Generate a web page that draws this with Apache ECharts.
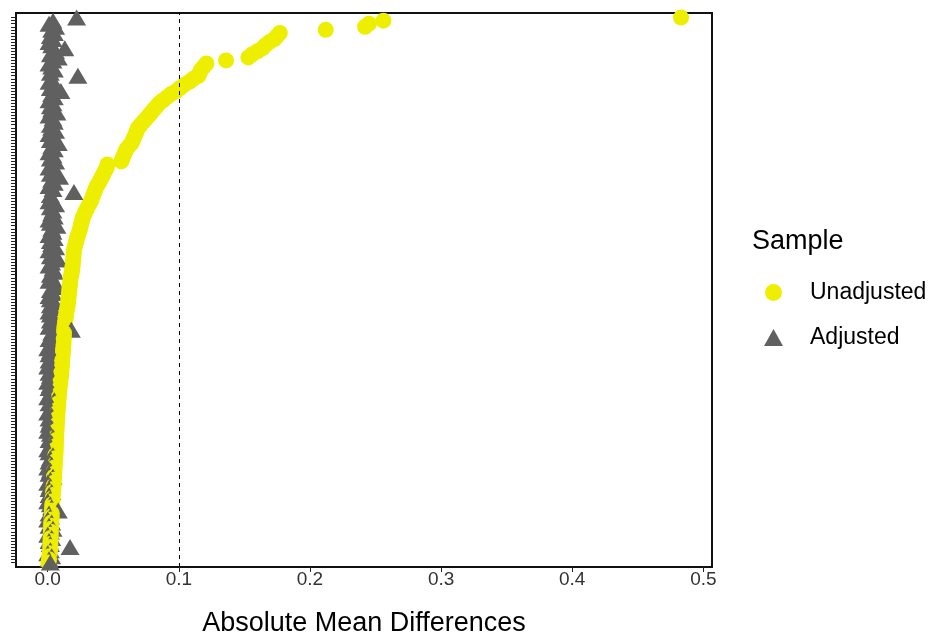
<!DOCTYPE html>
<html><head><meta charset="utf-8">
<script src="https://cdn.jsdelivr.net/npm/echarts@6/dist/echarts.min.js"></script>
<style>html,body{margin:0;padding:0;background:#fff}#c{width:933px;height:635px}</style>
</head><body><div id="c"></div>
<script>
// Unadjusted absolute mean differences, sorted ascending (row 0 = bottom of the plot)
const unadjusted = [
  0.0005, 0.001, 0.0012, 0.0015, 0.0018,
  0.002, 0.002, 0.0021, 0.0022, 0.0023, 0.0024, 0.0025, 0.0026, 0.0027, 0.0028,
  0.003, 0.0031, 0.0032, 0.0033, 0.0035, 0.0036, 0.0037, 0.0039, 0.004, 0.0042,
  0.0045, 0.0046, 0.0047, 0.0048, 0.005, 0.0051, 0.0052, 0.0054, 0.0055, 0.0057, 0.0058,
  0.006, 0.0061, 0.0062, 0.0063, 0.0064, 0.0065, 0.0066, 0.0067, 0.0068, 0.0069, 0.007,
  0.0071, 0.0073, 0.0075, 0.0077, 0.0079, 0.008, 0.0082, 0.0084,
  0.0086, 0.0088, 0.009, 0.0093, 0.0096, 0.0099,
  0.0101, 0.0103, 0.0105, 0.0107, 0.0109, 0.011,
  0.0112, 0.0114, 0.0116, 0.0118, 0.012,
  0.0121, 0.0122, 0.0123, 0.0124, 0.0125,
  0.0128, 0.0131, 0.0134, 0.0137, 0.014, 0.0144,
  0.0148, 0.0152, 0.0155, 0.0158, 0.016,
  0.0162, 0.0164, 0.0167, 0.017, 0.0172, 0.0175,
  0.018, 0.0184, 0.0187, 0.019,
  0.0192, 0.0194, 0.0196, 0.0198, 0.02,
  0.0206, 0.0212, 0.0218, 0.0224, 0.0232, 0.024,
  0.0246, 0.0252, 0.0258, 0.0264, 0.027,
  0.0281, 0.0292, 0.0304, 0.0316, 0.033,
  0.0338, 0.0347, 0.0356, 0.0365, 0.0375, 0.039,
  0.0402, 0.0414, 0.0426, 0.0438, 0.045,
  0.0455, 0.056, 0.057, 0.058,
  0.059, 0.060, 0.062, 0.064, 0.065,
  0.066, 0.067, 0.068, 0.069, 0.071,
  0.073, 0.075, 0.077, 0.079,
  0.081, 0.083, 0.085,
  0.088, 0.091, 0.094,
  0.098, 0.101, 0.104,
  0.108, 0.111, 0.115,
  0.116, 0.117, 0.119, 0.121,
  0.136,
  0.153, 0.156, 0.160, 0.164, 0.166, 0.169, 0.173, 0.175, 0.177,
  0.212, 0.242, 0.245, 0.256, 0.483
];
// Adjusted absolute mean differences, same row order
const adjusted = [
  0.002, 0.001, 0.003, 0.000, 0.002, 0.017, 0.002, 0.001, 0.003, 0.000,
  0.002, 0.004, 0.001, 0.003, 0.000, 0.002, 0.001, 0.008, 0.003, 0.002,
  0.000, 0.002, 0.001, 0.003, 0.001, 0.002, 0.000, 0.002, 0.004, 0.001,
  0.002, 0.000, 0.003, 0.001, 0.002, 0.004, 0.001, 0.000, 0.002, 0.003,
  0.001, 0.004, 0.002, 0.000, 0.003, 0.001, 0.002, 0.001, 0.003, 0.000,
  0.002, 0.003, 0.001, 0.005, 0.000, 0.002, 0.003, 0.001, 0.002, 0.000,
  0.003, 0.002, 0.001, 0.003, 0.000, 0.002, 0.001, 0.004, 0.001, 0.002,
  0.000, 0.002, 0.003, 0.001, 0.004, 0.003, 0.018, 0.001, 0.003, 0.002,
  0.004, 0.002, 0.001, 0.003, 0.002, 0.005, 0.002, 0.001, 0.004, 0.002,
  0.004, 0.006, 0.001, 0.003, 0.002, 0.005, 0.004, 0.001, 0.003, 0.008,
  0.002, 0.004, 0.001, 0.006, 0.003, 0.002, 0.005, 0.001, 0.004, 0.003,
  0.007, 0.002, 0.001, 0.005, 0.003, 0.004, 0.002, 0.006, 0.001, 0.003,
  0.002, 0.020, 0.004, 0.001, 0.005, 0.003, 0.009, 0.002, 0.004, 0.001,
  0.003, 0.006, 0.002, 0.004, 0.001, 0.005, 0.003, 0.008, 0.002, 0.004,
  0.001, 0.006, 0.003, 0.002, 0.005, 0.004, 0.001, 0.007, 0.003, 0.002,
  0.004, 0.001, 0.005, 0.003, 0.010, 0.002, 0.004, 0.001, 0.003, 0.023,
  0.002, 0.005, 0.003, 0.001, 0.004, 0.008, 0.002, 0.006, 0.013, 0.003,
  0.001, 0.004, 0.002, 0.005, 0.003, 0.006, 0.001, 0.004, 0.022
];
const rows = unadjusted.map((_, i) => i);          // covariate row positions (bottom = 0)
const xTicks = [0, 0.1, 0.2, 0.3, 0.4, 0.5];
const threshold = 0.1;
const sampleNames = ['Unadjusted', 'Adjusted'];

const COL_UN = '#EEEE00', COL_ADJ = '#606060';
const FONT = "'Liberation Sans', Arial, sans-serif";

// Interleave per row (top row first) so drawing order resembles the original
const marks = [];
for (let i = rows.length - 1; i >= 0; i--) {
  marks.push({ value: [unadjusted[i], rows[i]], symbol: 'circle', symbolSize: 16, itemStyle: { color: COL_UN, opacity: 1 } });
  marks.push({ value: [adjusted[i], rows[i]], symbol: 'triangle', symbolSize: [19, 16], itemStyle: { color: COL_ADJ, opacity: 1 } });
}

const chart = echarts.init(document.getElementById('c'), null, { renderer: 'canvas' });
chart.setOption({
  animation: false,
  backgroundColor: '#fff',
  title: {
    text: 'Sample', left: 752, top: 228, padding: 0,
    textStyle: { fontFamily: FONT, fontSize: 27, fontWeight: 'normal', color: '#000' }
  },
  legend: {
    data: [{ name: sampleNames[0], icon: 'circle' }, { name: sampleNames[1], icon: 'triangle' }],
    orient: 'vertical', left: 764, top: 281, padding: 0,
    itemWidth: 19, itemHeight: 17, itemGap: 22,
    textStyle: { fontFamily: FONT, fontSize: 23, color: '#000', padding: [0, 0, 0, 22] }
  },
  grid: {
    left: 16, right: 221, top: 13, bottom: 68,
    outerBoundsMode: 'none', containLabel: false,
    show: true, borderColor: '#111', borderWidth: 2, backgroundColor: '#fff'
  },
  xAxis: {
    type: 'value', min: -0.0242, max: 0.5066,
    name: 'Absolute Mean Differences', nameLocation: 'middle', nameGap: 43,
    nameTextStyle: { fontFamily: FONT, fontSize: 27, color: '#000' },
    axisLine: { show: true, onZero: false, lineStyle: { color: '#111', width: 2 } },
    splitLine: { show: false },
    axisTick: { show: true, length: 5, lineStyle: { color: '#222', width: 1 }, customValues: xTicks },
    axisLabel: { show: true, fontFamily: FONT, fontSize: 19, color: '#333', margin: 3, customValues: xTicks,
      formatter: v => v.toFixed(1) }
  },
  yAxis: {
    type: 'value', min: -1.5, max: rows.length - 1 + 1.5,
    axisLine: { show: true, onZero: false, lineStyle: { color: '#111', width: 2 } },
    axisTick: { show: true, length: 5, lineStyle: { color: '#222', width: 1 }, customValues: rows },
    axisLabel: { show: true, customValues: rows, formatter: () => '' },
    splitLine: { show: false }
  },
  series: [
    {
      name: 'marks', type: 'scatter', data: marks, clip: true, silent: true,
      markLine: {
        silent: true, symbol: 'none', animation: false,
        label: { show: false },
        lineStyle: { type: [4, 4], color: '#000', width: 1 },
        data: [{ xAxis: threshold }]
      }
    },
    { name: sampleNames[0], type: 'scatter', data: [], symbol: 'circle', itemStyle: { color: COL_UN, opacity: 1 } },
    { name: sampleNames[1], type: 'scatter', data: [], symbol: 'triangle', itemStyle: { color: COL_ADJ, opacity: 1 } }
  ]
});
</script>
</body></html>
